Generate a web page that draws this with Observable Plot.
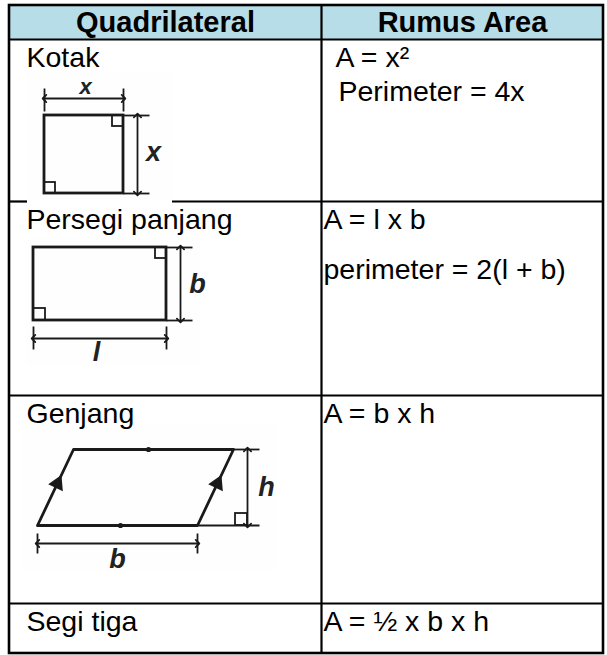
<!DOCTYPE html>
<html>
<head>
<meta charset="utf-8">
<script src="https://cdn.jsdelivr.net/npm/d3@7"></script>
<script src="https://cdn.jsdelivr.net/npm/@observablehq/plot@0.6"></script>
<style>
  html, body { margin: 0; padding: 0; background: #fff; }
  #chart svg { display: block; }
</style>
</head>
<body>
<div id="chart"></div>
<script>
// ---------- content ----------
const headers = ["Quadrilateral", "Rumus Area"];
const shapes = ["Kotak", "Persegi panjang", "Genjang", "Segi tiga"];
const formulaLines = [
  ["A = x²", "Perimeter = 4x"],
  ["A = l x b", "perimeter = 2(l + b)"],
  ["A = b x h"],
  ["A = ½ x b x h"]
];
const dimLabels = [["x", "x"], ["b", "l"], ["h", "b"], []];

// ---------- layout ----------
const W = 607, H = 655;
const FONT = "'Liberation Sans', Arial, Helvetica, sans-serif";
const colEdges = [9, 321, 603];
const rowEdges = [5, 39, 201, 395, 603, 653];
const formulaIndent = [14, 2, 2, 2];
const secondLineShift = [3, 0, 0, 0];
const lineGap = [34, 50, 0, 0];
const headerFill = "#b7dde8";
const ink = "#1a1a1a";

const headerData = headers.map((t, i) => ({t, x: (colEdges[i] + colEdges[i + 1]) / 2, y: rowEdges[0] + 26.5}));
const shapeData = shapes.map((t, i) => ({t, x: colEdges[0] + 17, y: rowEdges[i + 1] + 27.5}));
const formulaData = formulaLines.flatMap((lines, r) => lines.map((t, k) => ({
  t,
  x: colEdges[1] + formulaIndent[r] + (k ? secondLineShift[r] : 0),
  y: rowEdges[r + 1] + 27.5 + k * lineGap[r]
})));

// table rules (row 1 bottom rule is partly hidden by the picture of the square)
const hLines = [
  {y: rowEdges[1], x1: colEdges[0], x2: colEdges[2]},
  {y: rowEdges[2], x1: colEdges[0], x2: 27},
  {y: rowEdges[2], x1: 172, x2: colEdges[2]},
  {y: rowEdges[3], x1: colEdges[0], x2: colEdges[2]},
  {y: rowEdges[4], x1: colEdges[0], x2: colEdges[2]}
];
const vLines = [{x: colEdges[1], y1: rowEdges[0], y2: rowEdges[5]}];

// ---------- diagrams ----------
const sqBox = {x1: 44, x2: 123, y1: 115, y2: 193};
const rcBox = {x1: 33, x2: 166, y1: 247, y2: 320};
const para = [[37, 525], [73, 449], [233, 449], [197, 525], [37, 525]].map(([x, y]) => ({x, y}));

const outlines = [sqBox, rcBox];
const cornerBoxes = [
  {x1: 112, x2: 123, y1: 115, y2: 126}, {x1: 44, x2: 55, y1: 182, y2: 193},
  {x1: 155, x2: 166, y1: 247, y2: 258}, {x1: 33, x2: 45, y1: 308, y2: 320},
  {x1: 235, x2: 247, y1: 513, y2: 525}
];
const extLines = [
  {x1: 44, y1: 88, x2: 44, y2: 111}, {x1: 123, y1: 88, x2: 123, y2: 111},
  {x1: 123, y1: 115, x2: 149, y2: 115}, {x1: 123, y1: 193, x2: 149, y2: 193},
  {x1: 166, y1: 247, x2: 192, y2: 247}, {x1: 166, y1: 320, x2: 192, y2: 320},
  {x1: 33, y1: 326, x2: 33, y2: 349}, {x1: 166, y1: 326, x2: 166, y2: 349},
  {x1: 197, y1: 525, x2: 259, y2: 525}, {x1: 233, y1: 449, x2: 259, y2: 449},
  {x1: 37, y1: 533, x2: 37, y2: 553}, {x1: 197, y1: 533, x2: 197, y2: 553}
];
const dimLines = [
  {x1: 44, y1: 98, x2: 123, y2: 98}, {x1: 137, y1: 115, x2: 137, y2: 193},
  {x1: 180, y1: 247, x2: 180, y2: 320}, {x1: 33, y1: 338, x2: 166, y2: 338},
  {x1: 247, y1: 449, x2: 247, y2: 525}, {x1: 37, y1: 543, x2: 197, y2: 543}
];
const labelPos = [[[85, 86], [153, 152]], [[197, 284], [96, 352]], [[266, 487], [117, 559]], []];
const labelSize = [[22, 27], [27, 27], [27, 27], []];
const labelData = dimLabels.flatMap((ls, r) => ls.map((t, k) => ({
  t, x: labelPos[r][k][0], y: labelPos[r][k][1], s: labelSize[r][k]
})));
const sideArrows = [{x: 57, y: 483}, {x: 217, y: 483}];
const edgeTicks = [{x: 148, y: 449}, {x: 120, y: 525}];
const pictureAreas = [
  {x1: 27, x2: 172, y1: 73, y2: 199},
  {x1: 26, x2: 200, y1: 238, y2: 365},
  {x1: 23, x2: 277, y1: 425, y2: 570}
];

const chart = Plot.plot({
  width: W,
  height: H,
  margin: 0,
  x: {domain: [0, W], range: [0, W], axis: null},
  y: {domain: [0, H], range: [0, H], axis: null},
  style: {background: "#fff", fontFamily: FONT},
  marks: [
    Plot.rect([{}], {x1: colEdges[0], x2: colEdges[2], y1: rowEdges[0], y2: rowEdges[1], fill: headerFill}),
    Plot.rect(pictureAreas, {x1: "x1", x2: "x2", y1: "y1", y2: "y2", fill: "#fefefe"}),
    Plot.ruleY(hLines, {y: "y", x1: "x1", x2: "x2", stroke: "#000", strokeWidth: 2.2}),
    Plot.ruleX(vLines, {x: "x", y1: "y1", y2: "y2", stroke: "#000", strokeWidth: 2.2}),
    Plot.rect([{}], {x1: colEdges[0], x2: colEdges[2], y1: rowEdges[0], y2: rowEdges[5], fill: "none", stroke: "#000", strokeWidth: 2.6}),

    // diagrams
    Plot.rect(outlines, {x1: "x1", x2: "x2", y1: "y1", y2: "y2", fill: "none", stroke: ink, strokeWidth: 2.8}),
    Plot.line(para, {x: "x", y: "y", stroke: ink, strokeWidth: 2.8}),
    Plot.rect(cornerBoxes, {x1: "x1", x2: "x2", y1: "y1", y2: "y2", fill: "none", stroke: ink, strokeWidth: 1.8}),
    Plot.link(extLines, {x1: "x1", y1: "y1", x2: "x2", y2: "y2", stroke: ink, strokeWidth: 1.8}),
    Plot.link(dimLines, {x1: "x1", y1: "y1", x2: "x2", y2: "y2", stroke: ink, strokeWidth: 1.8,
      markerStart: "arrow-reverse", markerEnd: "arrow"}),
    Plot.dot(sideArrows, {x: "x", y: "y", symbol: "triangle", r: 6, fill: ink, stroke: "none", rotate: 25}),
    Plot.dot(edgeTicks, {x: "x", y: "y", r: 2.6, fill: ink, stroke: "none"}),
    Plot.text(labelData, {x: "x", y: "y", text: "t", fontSize: (d) => d.s, fontWeight: "bold", fontStyle: "italic",
      fill: "#222", textAnchor: "middle", lineAnchor: "middle"}),

    // text
    Plot.text(headerData, {x: "x", y: "y", text: "t", fontSize: 29, fontWeight: "bold", fill: "#000",
      textAnchor: "middle", lineAnchor: "bottom"}),
    Plot.text(shapeData, {x: "x", y: "y", text: "t", fontSize: 28.5, fill: "#000",
      textAnchor: "start", lineAnchor: "bottom"}),
    Plot.text(formulaData, {x: "x", y: "y", text: "t", fontSize: 28.5, fill: "#000",
      textAnchor: "start", lineAnchor: "bottom"})
  ]
});
document.getElementById("chart").append(chart);
</script>
</body>
</html>
